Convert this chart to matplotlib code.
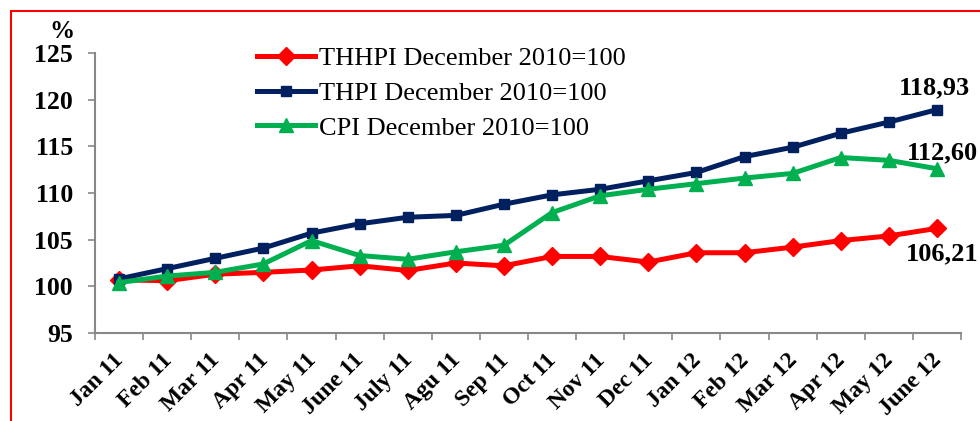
import matplotlib

matplotlib.use("Agg")
import matplotlib.pyplot as plt
import matplotlib.transforms as mtransforms
import numpy as np
from matplotlib.patches import Rectangle


months = [
    "Jan 11", "Feb 11", "Mar 11", "Apr 11", "May 11", "June 11", "July 11",
    "Agu 11", "Sep 11", "Oct 11", "Nov 11", "Dec 11", "Jan 12", "Feb 12",
    "Mar 12", "Apr 12", "May 12", "June 12",
]
thhpi = [100.7, 100.6, 101.3, 101.5, 101.75, 102.2, 101.7, 102.5, 102.2,
         103.2, 103.2, 102.6, 103.6, 103.6, 104.2, 104.9, 105.4, 106.21]
thpi = [100.8, 101.9, 103.0, 104.1, 105.7, 106.7, 107.4, 107.6, 108.8,
        109.8, 110.4, 111.3, 112.2, 113.9, 114.9, 116.4, 117.6, 118.93]
cpi = [100.4, 101.1, 101.5, 102.4, 104.9, 103.3, 102.9, 103.7, 104.4,
       107.9, 109.7, 110.4, 111.0, 111.6, 112.1, 113.8, 113.5, 112.60]

series_labels = [
    "THHPI December 2010=100",
    "THPI December 2010=100",
    "CPI December 2010=100",
]
end_labels = ["106,21", "118,93", "112,60"]

SERIF = ["Liberation Serif", "DejaVu Serif"]
plt.rcParams["font.family"] = SERIF

fig = plt.figure(figsize=(9.8, 4.21), dpi=100)
ax = fig.add_axes([95 / 980, 1 - 333 / 421, (961 - 95) / 980, (333 - 53) / 421])

x = np.arange(len(months))
ax.plot(x, thhpi, color="#FF0000", lw=3.6, marker="D", ms=9, label=series_labels[0])
ax.plot(x, thpi, color="#002060", lw=3.6, marker="s", ms=7, label=series_labels[1])
ax.plot(x, cpi, color="#00B050", lw=3.6, marker="^", ms=10, label=series_labels[2])

ax.set_xlim(-0.5, len(months) - 0.5)
ax.set_ylim(95, 125)
ax.set_yticks(np.arange(95, 126, 5))
ax.tick_params(axis="y", labelsize=18.5, color="#888888", length=5, width=1.2, pad=11)
for label in ax.get_yticklabels():
    label.set_fontweight("bold")

# category boundaries get the tick marks, labels sit at the centres
ax.set_xticks(np.arange(-0.5, len(months)), labels=[])
ax.tick_params(axis="x", which="major", color="#888888", length=5, width=1.2)
ax.set_xticks(x, labels=months, minor=True)
ax.tick_params(axis="x", which="minor", length=0, pad=12)
shift = mtransforms.ScaledTranslation(-6 / 100, 0, fig.dpi_scale_trans)
for label in ax.get_xticklabels(minor=True):
    label.set_fontweight("bold")
    label.set_fontsize(17)
    label.set_rotation(45)
    label.set_ha("right")
    label.set_va("top")
    label.set_rotation_mode("anchor")
    label.set_transform(label.get_transform() + shift)

for side in ["top", "right"]:
    ax.spines[side].set_visible(False)
for side in ["left", "bottom"]:
    ax.spines[side].set_color("#888888")
    ax.spines[side].set_linewidth(1.5)

last = len(months) - 1
ax.annotate(end_labels[1], (last, thpi[-1]), xytext=(-3, 22), textcoords="offset pixels",
            ha="center", va="center", fontsize=19, fontweight="bold")
ax.annotate(end_labels[2], (last, cpi[-1]), xytext=(5, 16), textcoords="offset pixels",
            ha="center", va="center", fontsize=19, fontweight="bold")
ax.annotate(end_labels[0], (last, thhpi[-1]), xytext=(5, -25), textcoords="offset pixels",
            ha="center", va="center", fontsize=19, fontweight="bold")

fig.text(62 / 980, 1 - 32 / 421, "%", fontsize=18, fontweight="bold", ha="center", va="center")

ax.legend(loc="upper left", bbox_to_anchor=(257 / 980, 1 - 47 / 421),
          bbox_transform=fig.transFigure, frameon=False, fontsize=19,
          handlelength=2.2, handletextpad=0.15, labelspacing=0.42,
          borderpad=0, borderaxespad=0)

fig.patches.append(Rectangle((11 / 980, -0.2), 1.2, 1.2 - 11 / 421,
                             transform=fig.transFigure, fill=False,
                             edgecolor="#FF0000", lw=1.5))

fig.savefig("out.png", dpi=100)
